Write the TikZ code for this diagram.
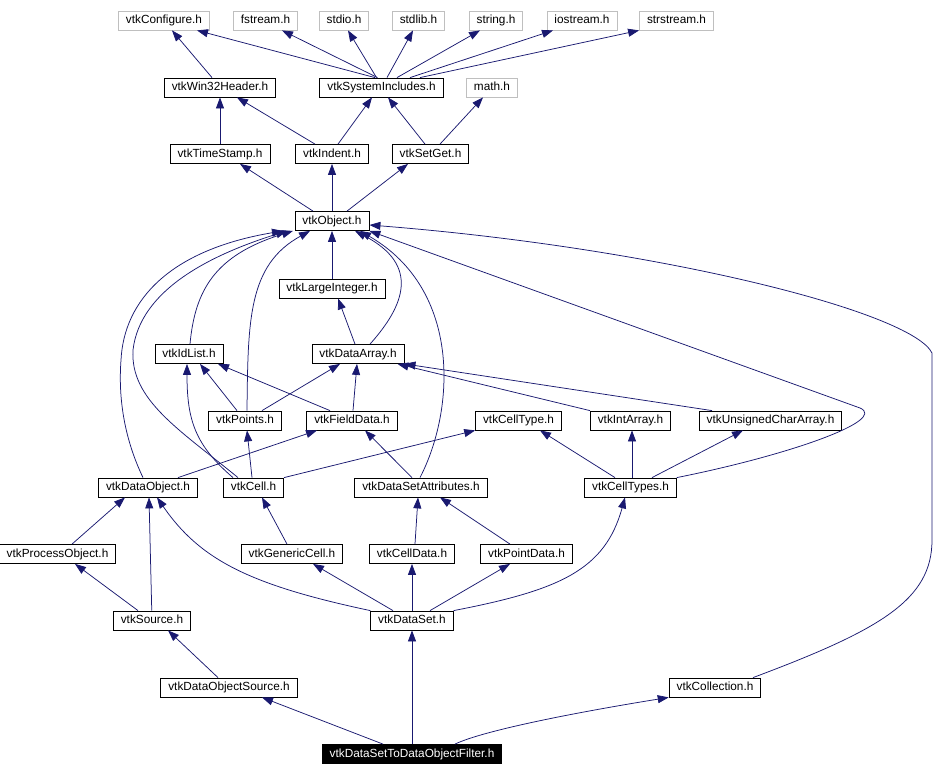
\documentclass[tikz,border=0pt]{standalone}
\usepackage{fontspec}
\setmainfont{Liberation Sans}
\usetikzlibrary{arrows.meta}
\definecolor{edgeblue}{RGB}{25,25,112}

\begin{document}
\begin{tikzpicture}[x=1pt, y=-1pt,
    box/.style={draw, line width=0.8pt, minimum height=19pt, inner xsep=7.5pt, inner ysep=1pt,
      text height=9pt, text depth=2.5pt, font=\fontsize{11.8}{13}\selectfont},
    sysbox/.style={box, draw=black!25},
    rootbox/.style={box, fill=black, text=white},
    dep/.style={draw=edgeblue, line width=0.75pt, -{Triangle[length=11pt, width=8pt]}}
  ]
  \useasboundingbox (0,0) rectangle (948,776);

  % system headers
  \node[sysbox] (configure) at (164,20.5) {vtkConfigure.h};
  \node[sysbox] (fstream) at (265.5,20.5) {fstream.h};
  \node[sysbox] (stdio) at (344,20.5) {stdio.h};
  \node[sysbox] (stdlib) at (418.5,20.5) {stdlib.h};
  \node[sysbox] (string) at (496,20.5) {string.h};
  \node[sysbox] (iostream) at (582,20.5) {iostream.h};
  \node[sysbox] (strstream) at (676.5,20.5) {strstream.h};
  \node[sysbox] (math) at (492,87.5) {math.h};

  \node[box] (win32) at (220,87.5) {vtkWin32Header.h};
  \node[box] (sysincl) at (381.5,87.5) {vtkSystemIncludes.h};
  \node[box] (timestamp) at (220,154) {vtkTimeStamp.h};
  \node[box] (indent) at (332,154) {vtkIndent.h};
  \node[box] (setget) at (430.5,154) {vtkSetGet.h};
  \node[box] (object) at (332,221) {vtkObject.h};
  \node[box] (largeint) at (332,288.5) {vtkLargeInteger.h};
  \node[box] (idlist) at (189,354) {vtkIdList.h};
  \node[box] (dataarray) at (358,354) {vtkDataArray.h};
  \node[box] (points) at (245,420.5) {vtkPoints.h};
  \node[box] (fielddata) at (352,420.5) {vtkFieldData.h};
  \node[box] (celltype) at (518.5,420.5) {vtkCellType.h};
  \node[box] (intarray) at (630.5,420.5) {vtkIntArray.h};
  \node[box] (ucarray) at (770.5,420.5) {vtkUnsignedCharArray.h};
  \node[box] (dataobject) at (148,487.5) {vtkDataObject.h};
  \node[box] (cell) at (253.5,487.5) {vtkCell.h};
  \node[box] (dsattr) at (421,487.5) {vtkDataSetAttributes.h};
  \node[box] (celltypes) at (630.5,487.5) {vtkCellTypes.h};
  \node[box] (procobj) at (57.5,554) {vtkProcessObject.h};
  \node[box] (genericcell) at (292,554) {vtkGenericCell.h};
  \node[box] (celldata) at (412,554) {vtkCellData.h};
  \node[box] (pointdata) at (526.5,554) {vtkPointData.h};
  \node[box] (source) at (152,620.5) {vtkSource.h};
  \node[box] (dataset) at (412,620.5) {vtkDataSet.h};
  \node[box] (dosource) at (229,687.5) {vtkDataObjectSource.h};
  \node[box] (collection) at (715,687.5) {vtkCollection.h};
  \node[rootbox] (filter) at (412,754) {vtkDataSetToDataObjectFilter.h};

  % includes of the top rows
  \draw[dep] ([xshift=-8]win32.north) -- ([xshift=8]configure.south);
  \draw[dep] ([xshift=-6.5]sysincl.north) -- ([xshift=33]configure.south);
  \draw[dep] ([xshift=-4]sysincl.north) -- ([xshift=16.5]fstream.south);
  \draw[dep] ([xshift=-5]sysincl.north) -- ([xshift=4]stdio.south);
  \draw[dep] ([xshift=5.5]sysincl.north) -- ([xshift=-5.5]stdlib.south);
  \draw[dep] ([xshift=15.5]sysincl.north) -- ([xshift=-16]string.south);
  \draw[dep] ([xshift=28.5]sysincl.north) -- ([xshift=-29]iostream.south);
  \draw[dep] ([xshift=38.5]sysincl.north) -- (strstream.south west);
  \draw[dep] (timestamp) -- (win32);
  \draw[dep] ([xshift=-17]indent.north) -- ([xshift=17]win32.south);
  \draw[dep] ([xshift=6]indent.north) -- ([xshift=-9.5]sysincl.south);
  \draw[dep] ([xshift=-5.5]setget.north) -- ([xshift=6.5]sysincl.south);
  \draw[dep] ([xshift=9.5]setget.north) -- ([xshift=-9]math.south);
  \draw[dep] ([xshift=-19]object.north) -- ([xshift=20]timestamp.south);
  \draw[dep] (object) -- (indent);
  \draw[dep] ([xshift=15]object.north) -- ([xshift=-22.5]setget.south);

  % vtkObject and below
  \draw[dep] (largeint) -- (object);
  \draw[dep] ([xshift=-3]dataarray.north) -- ([xshift=6]largeint.south);
  \draw[dep] ([xshift=12]dataarray.north) .. controls (405,305) and (420,265) .. ([xshift=23]object.south);
  \draw[dep] ([xshift=1]idlist.north) .. controls (195,290) and (215,255) .. ([xshift=-39]object.south);
  \draw[dep] ([xshift=2]points.north) .. controls (248,320) and (248,265) .. ([xshift=-22]object.south);
  \draw[dep] ([xshift=-8]points.north) -- ([xshift=11]idlist.south);
  \draw[dep] ([xshift=17]points.north) -- ([xshift=-18]dataarray.south);
  \draw[dep] ([xshift=-22]fielddata.north) -- ([xshift=29]idlist.south);
  \draw[dep] ([xshift=1]fielddata.north) -- ([xshift=-1]dataarray.south);
  \draw[dep] (intarray.north west) -- ([xshift=-7]dataarray.south east);
  \draw[dep] ([xshift=-58.5]ucarray.north) -- (dataarray.south east);
  \draw[dep] ([xshift=-15.5]celltypes.north) -- ([xshift=21.5]celltype.south);
  \draw[dep] ([xshift=1.5]celltypes.north) -- ([xshift=1.5]intarray.south);
  \draw[dep] ([xshift=21.5]celltypes.north) -- ([xshift=-27.5]ucarray.south);
  \draw[dep] (celltypes.north east) .. controls (790,455) and (888,420) .. (860,408) -- (object.south east);
  \draw[dep] ([xshift=-5]dataobject.north) .. controls (125,440) and (118,400) .. (121,360)
    .. controls (124,300) and (170,250) .. ([xshift=-49]object.south);
  \draw[dep] ([xshift=30]dataobject.north) -- ([xshift=-35]fielddata.south);
  \draw[dep] ([xshift=-15.5]cell.north) .. controls (180,430) and (130,400) .. (133,350)
    .. controls (140,290) and (210,255) .. ([xshift=-45]object.south);
  \draw[dep] ([xshift=-20.5]cell.north) .. controls (195,445) and (187,420) .. ([xshift=-2]idlist.south);
  \draw[dep] ([xshift=-1.5]cell.north) -- ([xshift=2]points.south);
  \draw[dep] (cell.north east) -- (celltype.south west);
  \draw[dep] ([xshift=-1]dsattr.north) .. controls (455,410) and (462,290) .. ([xshift=28]object.south);
  \draw[dep] ([xshift=-9]dsattr.north) -- ([xshift=13]fielddata.south);

  % lower rows
  \draw[dep] ([xshift=14.5]procobj.north) -- ([xshift=-23]dataobject.south);
  \draw[dep] (source) -- ([xshift=1]dataobject.south);
  \draw[dep] ([xshift=-14]source.north) -- ([xshift=17.5]procobj.south);
  \draw[dep] ([xshift=-5]genericcell.north) -- ([xshift=8.5]cell.south);
  \draw[dep] ([xshift=3]celldata.north) -- ([xshift=-3]dsattr.south);
  \draw[dep] ([xshift=-16.5]pointdata.north) -- ([xshift=19]dsattr.south);
  \draw[dep] (dataset.north west) .. controls (250,585) and (200,560) .. ([xshift=9]dataobject.south);
  \draw[dep] ([xshift=-19]dataset.north) -- ([xshift=21]genericcell.south);
  \draw[dep] (dataset) -- (celldata);
  \draw[dep] ([xshift=18]dataset.north) -- ([xshift=-16.5]pointdata.south);
  \draw[dep] (dataset.north east) .. controls (560,590) and (605,570) .. ([xshift=-5.5]celltypes.south);
  \draw[dep] ([xshift=-11]dosource.north) -- ([xshift=16]source.south);
  \draw[dep] ([xshift=-29]filter.north) -- ([xshift=33]dosource.south);
  \draw[dep] (filter) -- (dataset);
  \draw[dep] ([xshift=43]filter.north) .. controls (480,732) and (560,715) .. (collection.south west);
  \draw[dep] ([xshift=38]collection.north) .. controls (880,630) and (932,600) .. (932,540)
    -- (932,353) .. controls (912,312) and (660,248) .. ([yshift=-4]object.east);
\end{tikzpicture}
\end{document}
